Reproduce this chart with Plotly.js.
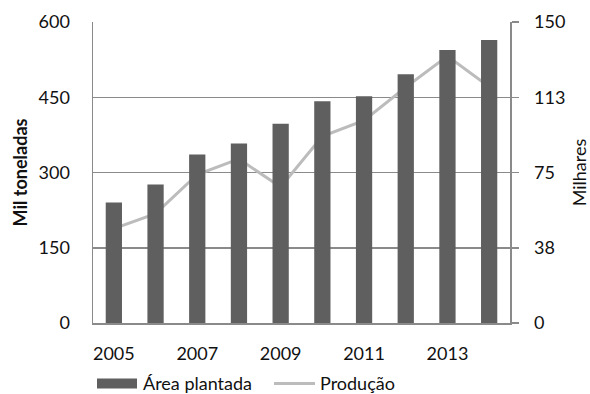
<!DOCTYPE html>
<html>
<head>
<meta charset="utf-8">
<script src="https://cdn.plot.ly/plotly-3.0.1.min.js"></script>
<style>html,body{margin:0;padding:0;background:#fff;}#chart{width:590px;height:394px;}</style>
</head>
<body>
<div id="chart"></div>
<script>
const years = [2005, 2006, 2007, 2008, 2009, 2010, 2011, 2012, 2013, 2014];
const areaPlantada = [60, 69, 84, 89.4, 99.3, 110.5, 113, 124, 136, 141];   // Milhares (right axis)
const producao = [188, 218, 296, 327, 271, 372, 404, 470, 532, 471];       // Mil toneladas (left axis)
const xTickVals = [2005, 2007, 2009, 2011, 2013];
const leftTicks = [0, 150, 300, 450, 600];
const rightTickVals = [0, 37.5, 75, 112.5, 150];
const rightTickText = ['0', '38', '75', '113', '150'];

const FONT = 'Lato, "Open Sans", sans-serif';
const GRID = '#8a8a8a';

const traces = [
  {
    type: 'bar', name: 'Área plantada', x: years, y: areaPlantada, yaxis: 'y2',
    width: 0.39, marker: {color: '#5f5f5f'}, showlegend: false, hoverinfo: 'x+y'
  },
  {
    type: 'scatter', mode: 'lines', name: 'Produção', x: years, y: producao, yaxis: 'y',
    line: {color: '#bcbcbc', width: 3}, showlegend: false
  }
];

const layout = {
  width: 590, height: 394,
  margin: {l: 93, r: 80, t: 22, b: 70.5},
  paper_bgcolor: '#fff', plot_bgcolor: '#fff',
  font: {family: FONT, size: 18, color: '#111'},
  showlegend: false,
  xaxis: {
    range: [2004.5, 2014.5], tickvals: xTickVals, ticktext: xTickVals.map(String),
    showgrid: false, zeroline: false, showline: true, linecolor: GRID, linewidth: 1.5,
    ticks: '', ticklabelstandoff: 14, fixedrange: true
  },
  yaxis: {
    range: [0, 600], tickvals: leftTicks, showgrid: true, gridcolor: GRID, gridwidth: 1.5,
    zeroline: false, showline: true, linecolor: GRID, linewidth: 1.5, ticks: '',
    ticklabelstandoff: 18,
    title: {text: '<b>Mil toneladas</b>', font: {size: 18, family: FONT}, standoff: 6}
  },
  yaxis2: {
    range: [0, 150], overlaying: 'y', side: 'right', tickvals: rightTickVals, ticktext: rightTickText,
    showgrid: false, zeroline: false, showline: true, linecolor: GRID, linewidth: 1.5,
    ticks: 'outside', ticklen: 7, tickcolor: GRID, tickwidth: 1.5, ticklabelstandoff: 12,
    title: {text: 'Milhares', font: {size: 18, family: FONT}, standoff: 16}
  },
  shapes: [
    {type: 'rect', xref: 'paper', yref: 'paper', x0: (97 - 93) / 417, x1: (137 - 93) / 417,
     y0: (323.5 - 389) / 301.5, y1: (323.5 - 379) / 301.5, fillcolor: '#5f5f5f', line: {width: 0}},
    {type: 'line', xref: 'paper', yref: 'paper', x0: (274 - 93) / 417, x1: (315 - 93) / 417,
     y0: (323.5 - 384) / 301.5, y1: (323.5 - 384) / 301.5, line: {color: '#bcbcbc', width: 3}}
  ],
  annotations: [
    {text: 'Área plantada', xref: 'paper', yref: 'paper', x: (141 - 93) / 417, y: (323.5 - 384) / 301.5,
     xanchor: 'left', yanchor: 'middle', showarrow: false, font: {size: 18, family: FONT, color: '#111'}},
    {text: 'Produção', xref: 'paper', yref: 'paper', x: (318 - 93) / 417, y: (323.5 - 384) / 301.5,
     xanchor: 'left', yanchor: 'middle', showarrow: false, font: {size: 18, family: FONT, color: '#111'}}
  ]
};

Plotly.newPlot('chart', traces, layout, {displayModeBar: false, staticPlot: true});
</script>
</body>
</html>
